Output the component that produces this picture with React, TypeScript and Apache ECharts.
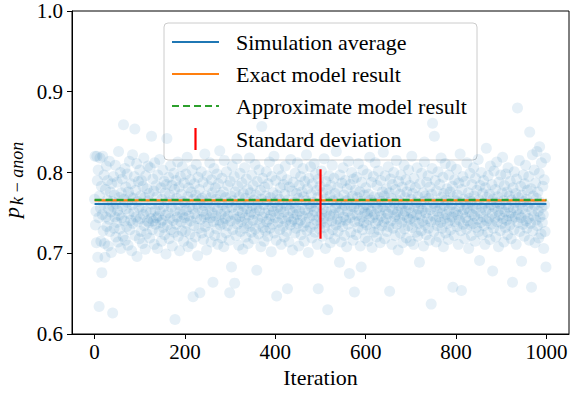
import React, { useEffect, useRef } from "react";
import * as echarts from "echarts";

// p_k-anon per iteration (thousandths), iterations 0..999
const pValues: number[] = [
  767, 820, 735, 752, 713, 820, 790, 695, 803, 744, 634, 771, 818, 756, 715, 783, 676, 748, 820, 728,
  761, 797, 712, 695, 779, 745, 808, 733, 766, 790, 709, 755, 742, 814, 727, 776, 751, 701, 786, 764,
  626, 758, 795, 731, 772, 745, 809, 720, 761, 738, 788, 753, 714, 826, 747, 769, 730, 800, 706, 775,
  744, 792, 758, 721, 859, 767, 740, 805, 716, 782, 755, 733, 798, 763, 710, 776, 749, 814, 729, 770,
  741, 786, 703, 760, 822, 737, 768, 751, 795, 854, 722, 778, 745, 811, 696, 764, 739, 789, 757, 718,
  803, 743, 771, 727, 790, 756, 712, 783, 748, 818, 734, 769, 705, 796, 752, 724, 780, 740, 808, 765,
  738, 774, 719, 806, 751, 743, 845, 761, 729, 792, 740, 777, 711, 812, 753, 736, 784, 744, 770, 706,
  797, 746, 760, 727, 816, 752, 738, 781, 715, 767, 741, 803, 732, 758, 789, 723, 775, 747, 699, 785,
  842, 735, 763, 750, 794, 718, 772, 743, 808, 729, 757, 784, 709, 766, 741, 799, 726, 779, 618, 753,
  790, 736, 768, 745, 813, 721, 760, 782, 703, 751, 795, 739, 773, 728, 807, 748, 764, 715, 787, 744,
  762, 727, 798, 753, 737, 819, 770, 708, 781, 746, 758, 724, 791, 740, 776, 712, 803, 755, 646, 767,
  734, 786, 749, 720, 772, 810, 743, 761, 697, 794, 756, 731, 779, 651, 766, 742, 801, 725, 768, 752,
  788, 717, 759, 745, 823, 733, 771, 748, 704, 796, 762, 738, 783, 726, 757, 812, 744, 769, 714, 791,
  750, 775, 664, 739, 805, 758, 722, 781, 746, 767, 730, 798, 754, 711, 786, 741, 763, 827, 735, 772,
  748, 719, 793, 760, 737, 776, 708, 815, 752, 743, 769, 725, 801, 756, 734, 784, 746, 763, 716, 651,
  789, 740, 771, 683, 757, 808, 729, 765, 748, 795, 663, 776, 742, 722, 760, 817, 736, 783, 753, 710,
  770, 745, 799, 727, 762, 739, 787, 750, 705, 774, 758, 731, 806, 744, 768, 720, 792, 755, 737, 779,
  712, 763, 747, 818, 733, 775, 751, 726, 797, 759, 741, 784, 718, 766, 749, 810, 730, 772, 756, 679,
  789, 742, 761, 724, 803, 753, 737, 778, 708, 767, 857, 745, 793, 732, 760, 715, 782, 750, 728, 771,
  801, 739, 764, 721, 786, 754, 742, 813, 731, 769, 747, 702, 795, 758, 736, 775, 752, 820, 725, 763,
  744, 790, 716, 647, 772, 757, 738, 804, 749, 767, 729, 781, 755, 711, 796, 743, 762, 733, 785, 751,
  720, 773, 808, 740, 759, 727, 791, 656, 766, 745, 714, 782, 753, 735, 816, 761, 739, 777, 704, 750,
  788, 742, 763, 725, 799, 756, 731, 774, 748, 812, 737, 768, 709, 784, 752, 741, 795, 723, 760, 776,
  746, 805, 733, 770, 715, 789, 754, 738, 765, 822, 728, 780, 750, 701, 793, 744, 761, 732, 807, 758,
  773, 719, 786, 747, 763, 736, 811, 752, 726, 798, 757, 741, 778, 711, 769, 656, 792, 745, 730, 783,
  760, 737, 802, 749, 721, 775, 755, 743, 817, 732, 767, 706, 789, 751, 738, 779, 630, 763, 724, 796,
  746, 771, 713, 784, 753, 740, 809, 729, 765, 748, 793, 718, 774, 756, 735, 826, 761, 742, 781, 727,
  768, 750, 689, 797, 739, 762, 714, 787, 754, 733, 806, 745, 772, 722, 759, 790, 741, 765, 708, 780,
  752, 736, 814, 767, 675, 744, 785, 726, 758, 800, 748, 771, 716, 792, 757, 652, 739, 778, 761, 723,
  794, 747, 769, 732, 811, 754, 740, 776, 709, 764, 683, 788, 745, 729, 803, 757, 738, 772, 751, 719,
  781, 760, 735, 798, 749, 715, 773, 755, 742, 819, 730, 766, 752, 788, 707, 763, 744, 795, 726, 770,
  748, 812, 737, 761, 720, 784, 756, 741, 802, 729, 769, 753, 713, 790, 746, 764, 734, 776, 758, 825,
  739, 771, 718, 796, 752, 743, 780, 727, 763, 749, 807, 733, 775, 653, 757, 792, 740, 768, 711, 785,
  754, 731, 800, 762, 745, 722, 779, 748, 815, 736, 766, 751, 704, 789, 759, 742, 773, 725, 797, 755,
  738, 782, 713, 761, 747, 809, 730, 769, 752, 791, 719, 776, 744, 760, 734, 803, 756, 742, 784, 715,
  767, 750, 820, 732, 774, 745, 711, 793, 758, 739, 781, 726, 763, 748, 806, 721, 770, 755, 737, 689,
  786, 747, 761, 728, 799, 753, 740, 775, 709, 764, 813, 735, 771, 750, 723, 788, 757, 743, 796, 731,
  768, 716, 782, 754, 739, 637, 773, 805, 861, 746, 762, 727, 845, 758, 790, 741, 714, 777, 752, 734,
  801, 763, 745, 720, 785, 756, 738, 818, 769, 731, 750, 794, 708, 774, 759, 743, 811, 725, 766, 748,
  780, 737, 762, 717, 797, 754, 741, 776, 729, 808, 760, 745, 783, 658, 770, 751, 722, 791, 739, 765,
  752, 804, 733, 772, 747, 711, 787, 758, 741, 823, 763, 728, 654, 779, 749, 795, 736, 767, 754, 718,
  789, 744, 761, 730, 812, 756, 740, 775, 706, 768, 751, 799, 735, 764, 722, 785, 748, 759, 737, 806,
  771, 746, 715, 793, 755, 732, 778, 761, 742, 816, 727, 766, 691, 784, 750, 738, 800, 757, 723, 774,
  745, 790, 734, 762, 711, 781, 753, 830, 740, 769, 726, 796, 756, 743, 773, 717, 808, 760, 736, 785,
  749, 678, 767, 731, 802, 757, 744, 779, 720, 763, 813, 739, 770, 752, 708, 788, 747, 761, 728, 797,
  755, 737, 775, 819, 743, 765, 714, 784, 751, 732, 798, 760, 741, 776, 723, 806, 757, 746, 771, 735,
  789, 750, 718, 766, 742, 664, 781, 756, 729, 801, 763, 745, 774, 711, 792, 754, 880, 738, 769, 748,
  815, 727, 761, 783, 744, 690, 772, 755, 736, 797, 764, 721, 786, 749, 809, 740, 767, 731, 778, 758,
  743, 795, 716, 850, 762, 737, 780, 658, 753, 822, 728, 771, 746, 803, 759, 713, 787, 741, 768, 826,
  734, 776, 752, 719, 799, 832, 745, 763, 724, 812, 757, 738, 783, 748, 706, 791, 760, 727, 818, 683,
];

const simulationAverage = 0.761;
const exactModel = 0.7655;
const approximateModel = 0.766;
const stdDeviation = 0.043;
const stdIteration = 500;
const lineRange = [0, 1000];
const xTicks = [0, 200, 400, 600, 800, 1000];
const legendLabels = [
  "Simulation average",
  "Exact model result",
  "Approximate model result",
  "Standard deviation",
];

const SERIF = "Liberation Serif, Times New Roman, Tinos, DejaVu Serif, serif";

export default function App() {
  const ref = useRef<HTMLDivElement>(null);

  useEffect(() => {
    if (!ref.current) return;
    const chart = echarts.init(ref.current, undefined, { renderer: "svg" });

    const scatterData = pValues.map((v, i) => [i, v / 1000]);
    const hLine = (y: number) => lineRange.map((x) => [x, y]);

    const legendX = 164;
    const legendY = 23;
    const rowY = [42, 74, 106, 139];
    const handleX1 = 172;
    const handleX2 = 219;
    const textX = 236;

    const option: any = {
      animation: false,
      backgroundColor: "#fff",
      textStyle: { fontFamily: SERIF },
      grid: {
        left: 72,
        top: 11,
        width: 497,
        height: 323,
        show: true,
        borderColor: "#000",
        borderWidth: 1,
        backgroundColor: "transparent",
      },
      xAxis: {
        type: "value",
        min: -50,
        max: 1050,
        name: "Iteration",
        nameLocation: "middle",
        nameGap: 31,
        nameTextStyle: { fontFamily: SERIF, fontSize: 22, color: "#000" },
        splitLine: { show: false },
        axisLine: { onZero: false, lineStyle: { color: "#000", width: 1 } },
        axisTick: {
          show: true,
          length: 5,
          inside: false,
          customValues: xTicks,
          lineStyle: { color: "#000" },
        },
        axisLabel: {
          customValues: xTicks,
          fontFamily: SERIF,
          fontSize: 21,
          color: "#000",
          margin: 7,
          formatter: (v: number) => String(v),
        },
      },
      yAxis: {
        type: "value",
        min: 0.6,
        max: 1.0,
        interval: 0.1,
        splitLine: { show: false },
        axisLine: { show: true, onZero: false, lineStyle: { color: "#000", width: 1 } },
        axisTick: { show: true, length: 5, lineStyle: { color: "#000" } },
        axisLabel: {
          fontFamily: SERIF,
          fontSize: 21,
          color: "#000",
          margin: 9,
          formatter: (v: number) => v.toFixed(1),
        },
      },
      series: [
        {
          type: "scatter",
          data: scatterData,
          symbolSize: 11,
          itemStyle: { color: "#1f77b4", opacity: 0.11 },
          silent: true,
          z: 1,
        },
        {
          type: "line",
          name: legendLabels[0],
          data: hLine(simulationAverage),
          symbol: "none",
          lineStyle: { color: "#1f77b4", width: 2.2 },
          z: 3,
        },
        {
          type: "line",
          name: legendLabels[1],
          data: hLine(exactModel),
          symbol: "none",
          lineStyle: { color: "#ff7f0e", width: 2.2 },
          z: 4,
        },
        {
          type: "line",
          name: legendLabels[2],
          data: hLine(approximateModel),
          symbol: "none",
          lineStyle: { color: "#2ca02c", width: 2.2, type: [7, 4] },
          z: 5,
        },
        {
          type: "line",
          name: legendLabels[3],
          data: [
            [stdIteration, simulationAverage - stdDeviation],
            [stdIteration, simulationAverage + stdDeviation],
          ],
          symbol: "none",
          lineStyle: { color: "#ff0000", width: 2.2 },
          z: 6,
        },
      ],
      graphic: [
        {
          type: "group",
          x: 22,
          y: 218,
          rotation: Math.PI / 2,
          children: [
            {
              type: "text",
              x: 0,
              y: 0,
              style: {
                text: "p",
                fontFamily: SERIF,
                fontStyle: "italic",
                fontSize: 22,
                fill: "#000",
                verticalAlign: "bottom",
                align: "left",
              },
            },
            {
              type: "text",
              x: 13,
              y: 4,
              style: {
                text: "k\u2009\u2212\u2009anon",
                fontFamily: SERIF,
                fontStyle: "italic",
                fontSize: 18,
                fill: "#000",
                verticalAlign: "bottom",
                align: "left",
              },
            },
          ],
        },
        {
          type: "group",
          z: 100,
          children: [
            {
              type: "rect",
              shape: { x: legendX, y: legendY, width: 313, height: 137, r: 4 },
              style: { fill: "rgba(255,255,255,0.8)", stroke: "#cccccc", lineWidth: 1 },
            },
            {
              type: "line",
              shape: { x1: handleX1, y1: rowY[0], x2: handleX2, y2: rowY[0] },
              style: { stroke: "#1f77b4", lineWidth: 2.2 },
            },
            {
              type: "line",
              shape: { x1: handleX1, y1: rowY[1], x2: handleX2, y2: rowY[1] },
              style: { stroke: "#ff7f0e", lineWidth: 2.2 },
            },
            {
              type: "line",
              shape: { x1: handleX1, y1: rowY[2], x2: handleX2, y2: rowY[2] },
              style: { stroke: "#2ca02c", lineWidth: 2.2, lineDash: [7, 4] },
            },
            {
              type: "line",
              shape: { x1: 195.5, y1: rowY[3] - 11, x2: 195.5, y2: rowY[3] + 11 },
              style: { stroke: "#ff0000", lineWidth: 2.2 },
            },
            ...legendLabels.map((t, i) => ({
              type: "text",
              x: textX,
              y: rowY[i],
              style: {
                text: t,
                fontFamily: SERIF,
                fontSize: 22,
                fill: "#000",
                verticalAlign: "middle",
                align: "left",
              },
            })),
          ],
        },
      ],
    };

    chart.setOption(option);
    return () => chart.dispose();
  }, []);

  return (
    <div
      ref={ref}
      style={{ position: "absolute", left: 0, top: 0, width: 572, height: 394 }}
    />
  );
}
